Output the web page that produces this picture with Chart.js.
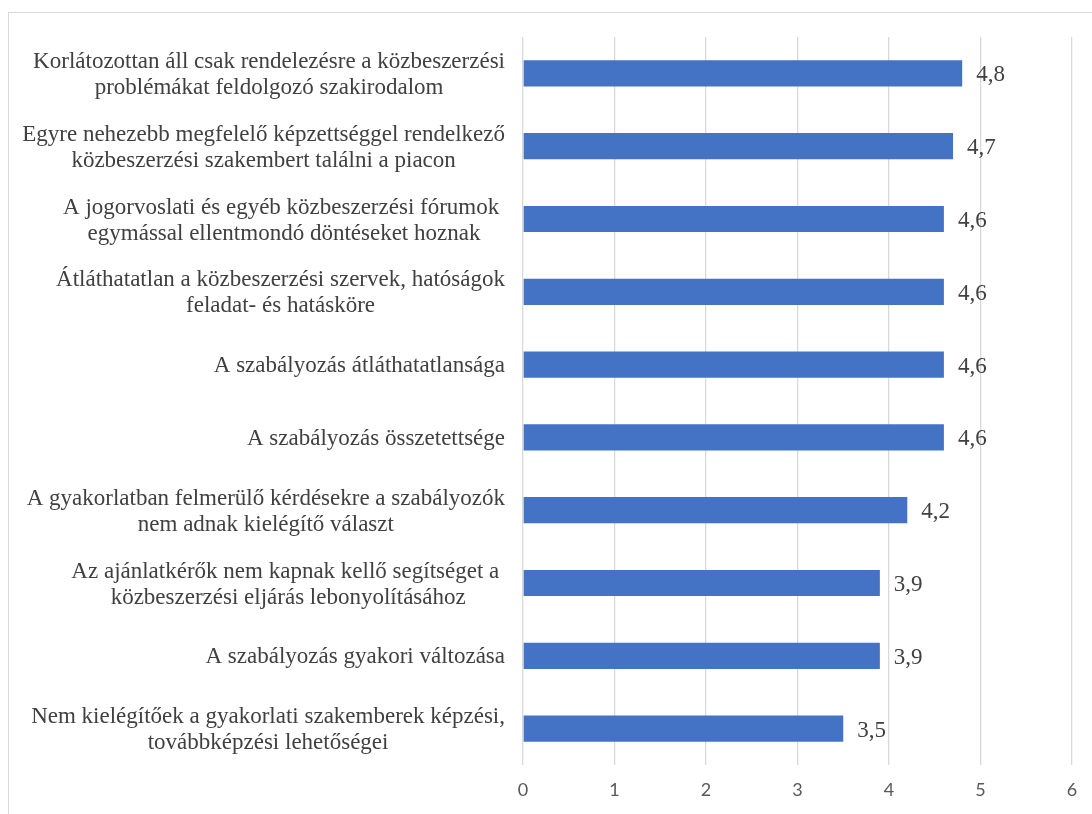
<!DOCTYPE html>
<html>
<head>
<meta charset="utf-8">
<script src="https://cdn.jsdelivr.net/npm/chart.js@4.4.0/dist/chart.umd.min.js"></script>
<style>
  html, body { margin: 0; padding: 0; background: #fff; }
  #wrap { position: relative; width: 1092px; height: 814px; overflow: hidden; }
  #frame { position: absolute; left: 8px; top: 12px; width: 1200px; height: 900px; border: 1px solid #d9d9d9; box-sizing: border-box; }
  canvas { position: absolute; left: 0; top: 0; }
</style>
</head>
<body>
<div id="wrap">
  <div id="frame"></div>
  <canvas id="c" width="1092" height="814"></canvas>
</div>
<script>
const categories = [
  ["Korlátozottan áll csak rendelezésre a közbeszerzési", "problémákat feldolgozó szakirodalom"],
  ["Egyre nehezebb megfelelő képzettséggel rendelkező", "közbeszerzési szakembert találni a piacon"],
  ["A jogorvoslati és egyéb közbeszerzési fórumok ", "egymással ellentmondó döntéseket hoznak"],
  ["Átláthatatlan a közbeszerzési szervek, hatóságok", "feladat- és hatásköre"],
  ["A szabályozás átláthatatlansága"],
  ["A szabályozás összetettsége"],
  ["A gyakorlatban felmerülő kérdésekre a szabályozók", "nem adnak kielégítő választ"],
  ["Az ajánlatkérők nem kapnak kellő segítséget a ", "közbeszerzési eljárás lebonyolításához"],
  ["A szabályozás gyakori változása"],
  ["Nem kielégítőek a gyakorlati szakemberek képzési,", "továbbképzési lehetőségei"]
];
const values = [4.8, 4.7, 4.6, 4.6, 4.6, 4.6, 4.2, 3.9, 3.9, 3.5];
const xTicks = [0, 1, 2, 3, 4, 5, 6];

const SERIF = '23px "Liberation Serif", "Times New Roman", serif';
const TEXT = '#404040';

const labelPlugin = {
  id: 'labelPlugin',
  afterDraw(chart) {
    const ctx = chart.ctx;
    const yScale = chart.scales.y;
    const meta = chart.getDatasetMeta(0);
    ctx.save();
    ctx.font = SERIF;
    ctx.fillStyle = TEXT;
    ctx.textBaseline = 'middle';
    const rightEdge = chart.chartArea.left - 18;
    const lh = 26;
    categories.forEach((lines, i) => {
      const yc = yScale.getPixelForValue(i) + 1.5;
      const w = Math.max(...lines.map(l => ctx.measureText(l).width));
      const cx = rightEdge - w / 2;
      ctx.textAlign = 'center';
      lines.forEach((l, j) => {
        const y = yc + (j - (lines.length - 1) / 2) * lh;
        ctx.fillText(l, cx, y);
      });
      const bar = meta.data[i];
      ctx.textAlign = 'left';
      ctx.fillText(String(values[i]).replace('.', ','), bar.x + 14, bar.y + 2);
    });
    ctx.restore();
  }
};

new Chart(document.getElementById('c'), {
  type: 'bar',
  data: {
    labels: categories,
    datasets: [{
      data: values,
      backgroundColor: '#4472C4',
      borderWidth: 0,
      barPercentage: 0.36,
      categoryPercentage: 1.0
    }]
  },
  options: {
    indexAxis: 'y',
    responsive: false,
    animation: false,
    layout: { padding: { top: 37, right: 20, left: 0, bottom: 0 } },
    plugins: { legend: { display: false }, tooltip: { enabled: false } },
    scales: {
      x: {
        min: 0, max: 6,
        afterBuildTicks(s) { s.ticks = xTicks.map(v => ({ value: v })); },
        afterFit(s) { s.height = 49; },
        grid: { color: '#d9d9d9', lineWidth: 1.3, drawTicks: false },
        border: { display: false },
        ticks: { color: '#595959', font: { family: 'Lato, "Open Sans", sans-serif', size: 18 }, padding: 14 }
      },
      y: {
        afterFit(s) { s.width = 523; },
        grid: { display: false },
        border: { display: false },
        ticks: { display: false }
      }
    }
  },
  plugins: [labelPlugin]
});
</script>
</body>
</html>
